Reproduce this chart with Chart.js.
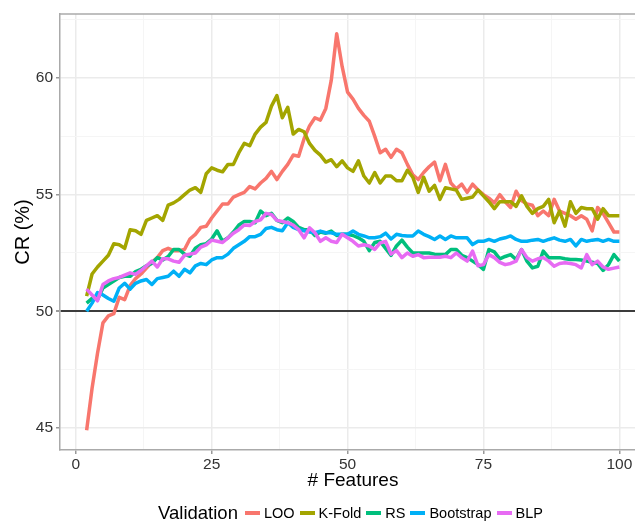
<!DOCTYPE html>
<html>
<head>
<meta charset="utf-8">
<script src="https://cdn.jsdelivr.net/npm/chart.js@4.4.0/dist/chart.umd.min.js"></script>
<style>
  html, body { margin: 0; padding: 0; background: #fff; overflow: hidden; }
  #wrap { position: relative; width: 660px; height: 522px; }
  #legend {
    position: absolute; top: 502px; height: 22px;
    display: flex; justify-content: center; align-items: center;
    font-family: "Liberation Sans", Arial, sans-serif; color: #000; white-space: nowrap;
  }
  #legend .title { font-size: 18.5px; margin-right: 7px; }
  #legend .key { width: 15px; height: 4px; margin-right: 4px; }
  #legend .label { font-size: 14.5px; margin-right: 5px; }
</style>
</head>
<body>
<div id="wrap">
  <canvas id="chart"></canvas>
  <div id="legend"></div>
</div>
<script>
// x = number of features (2..100)
const FEATURES = Array.from({ length: 99 }, (_, i) => i + 2);

const LOO = [
  44.9, 46.7, 48.2, 49.5, 49.8, 49.9, 50.6, 50.5, 51.1, 51.4,
  51.6, 51.85, 52.1, 52.3, 52.6, 52.7, 52.6, 52.6, 52.65, 53.1,
  53.3, 53.6, 53.65, 54.0, 54.3, 54.6, 54.6, 54.9, 55.0, 55.1,
  55.35, 55.25, 55.5, 55.7, 56.0, 55.65, 56.0, 56.3, 56.7, 56.65,
  57.4, 57.95, 58.3, 58.2, 58.7, 59.9, 61.9, 60.5, 59.4, 59.1,
  58.7, 58.4, 58.15, 57.5, 56.8, 56.95, 56.6, 56.95, 56.8, 56.3,
  55.85, 55.65, 55.95, 56.2, 56.4, 55.6, 56.3, 55.5, 55.25, 55.45,
  55.1, 55.45, 55.2, 55.0, 54.85, 54.65, 55.0, 54.7, 54.45, 55.15,
  54.75, 54.6, 54.55, 54.1, 54.3, 54.1, 54.8, 54.3, 54.2, 54.1,
  53.95, 54.1, 53.95, 53.45, 54.45, 54.2, 53.8, 53.4, 53.4
];
const K_FOLD = [
  50.65, 51.6, 51.9, 52.15, 52.4, 52.9, 52.85, 52.7, 53.5, 53.45,
  53.3, 53.9, 54.0, 54.1, 53.9, 54.55, 54.65, 54.8, 55.0, 55.2,
  55.3, 55.1, 55.9, 56.15, 56.05, 55.98, 56.3, 56.3, 56.8, 57.2,
  57.1, 57.6, 57.9, 58.1, 58.8, 59.25, 58.3, 58.75, 57.6, 57.8,
  57.7, 57.2, 56.9, 56.7, 56.4, 56.5, 56.2, 56.45, 56.15, 56.0,
  56.45, 55.8, 55.5, 55.95, 55.5, 55.8, 55.8, 55.6, 55.6, 56.05,
  55.75, 55.1, 55.75, 55.15, 55.4, 54.8, 55.3, 55.25, 55.2, 54.8,
  54.85, 54.9, 55.2, 54.95, 54.7, 54.4, 54.7, 54.7, 54.7, 54.5,
  54.95, 54.5, 54.2, 54.4, 54.5, 54.8, 53.8, 54.3, 53.65, 54.7,
  54.2, 54.45, 54.4, 54.4, 53.95, 54.4, 54.1, 54.1, 54.1
];
const RS = [
  50.35, 50.55, 50.5, 51.0, 51.15, 51.3, 51.45, 51.5, 51.5, 51.7,
  51.8, 51.95, 52.05, 52.3, 52.2, 52.35, 52.65, 52.65, 52.45, 52.36,
  52.7, 52.85, 52.9, 53.1, 53.45, 53.0, 53.15, 53.4, 53.7, 53.85,
  53.85, 53.8, 54.3, 54.1, 54.2, 53.9, 53.8, 54.0, 53.85, 53.6,
  53.5, 53.5, 53.25, 53.4, 53.35, 53.44, 53.25, 53.3, 53.3, 53.25,
  53.15, 53.0, 52.6, 52.95, 53.0, 52.7, 52.4, 52.8, 53.05, 52.75,
  52.5, 52.5, 52.5, 52.5, 52.45, 52.43, 52.43, 52.65, 52.65, 52.4,
  52.3, 52.15, 52.0, 51.8, 52.65, 52.55, 52.25, 52.35, 52.43, 52.22,
  52.65, 52.15, 51.86, 51.93, 52.58, 52.3, 52.3, 52.3, 52.25, 52.22,
  52.22, 52.2, 52.15, 52.1, 52.05, 51.75, 52.0, 52.43, 52.15
];
const BOOTSTRAP = [
  50.0, 50.35, 50.8, 50.7, 50.55, 50.43, 51.0, 51.2, 50.95, 51.2,
  51.3, 51.36, 51.15, 51.4, 51.45, 51.5, 51.72, 51.5, 51.8, 51.65,
  51.95, 52.05, 52.0, 52.2, 52.3, 52.3, 52.45, 52.7, 52.85, 53.0,
  53.2, 53.2, 53.3, 53.55, 53.6, 53.5, 53.45, 53.8, 53.6, 53.5,
  53.45, 53.4, 53.37, 53.44, 53.37, 53.37, 53.3, 53.3, 53.3, 53.44,
  53.3, 53.23, 53.15, 53.15, 53.2, 53.35, 53.1, 53.3, 53.25, 53.23,
  53.23, 53.44, 53.3, 53.2, 53.08, 53.23, 53.08, 53.23, 53.15, 53.15,
  53.15, 52.86, 53.0, 53.0, 53.08, 53.0, 53.1, 53.15, 53.23, 53.08,
  53.0, 53.0, 53.05, 53.08, 53.0, 53.08, 53.15, 53.05, 53.0, 53.08,
  52.8, 53.08, 53.0, 53.05, 53.08, 53.0, 53.08, 53.0, 53.0
];
const BLP = [
  50.95, 50.7, 50.45, 51.15, 51.3, 51.4, 51.45, 51.55, 51.65, 51.58,
  51.75, 51.95, 52.15, 51.9, 52.25, 52.25, 52.15, 52.1, 52.4, 52.45,
  52.5, 52.75, 52.85, 53.05, 53.0, 52.95, 53.15, 53.35, 53.5, 53.7,
  53.68, 53.85, 53.92, 54.2, 54.15, 53.9, 53.85, 53.8, 53.7, 53.5,
  53.15, 53.58, 53.37, 53.0, 53.15, 53.0, 52.95, 53.3, 53.15, 53.0,
  52.8, 52.85, 52.8, 52.65, 52.93, 53.0, 52.45, 52.6, 52.3, 52.5,
  52.36, 52.43, 52.3, 52.32, 52.32, 52.32, 52.36, 52.3, 52.5, 52.3,
  52.15, 52.58, 51.95, 52.0, 52.43, 52.3, 52.1, 52.0, 52.05, 52.15,
  52.65, 52.3, 52.15, 52.25, 52.3, 52.15, 51.93, 52.05, 52.08, 52.05,
  52.0, 51.86, 52.43, 52.0, 52.15, 51.9, 51.8, 51.85, 51.9
];

const SERIES_NAMES = ["LOO", "K-Fold", "RS", "Bootstrap", "BLP"];
const SERIES_COLORS = ["#F8766D", "#A3A500", "#00BF7D", "#00B0F6", "#E76BF3"];

const X_TICKS = [0, 12.5, 25, 37.5, 50, 62.5, 75, 87.5, 100];
const X_LABELS = [0, 25, 50, 75, 100];
const Y_TICKS = [45, 47.5, 50, 52.5, 55, 57.5, 60, 62.5];
const Y_LABELS = [45, 50, 55, 60];
const BASELINE = 50;

const FONT = "'Liberation Sans', Arial, sans-serif";
Chart.defaults.font.family = FONT;

const allSeries = [LOO, K_FOLD, RS, BOOTSTRAP, BLP];

// ggplotと同じく後のシリーズを上に描く
const datasets = allSeries.map((values, i) => ({
  label: SERIES_NAMES[i],
  data: values,
  borderColor: SERIES_COLORS[i],
  backgroundColor: SERIES_COLORS[i],
  borderWidth: 3.5,
  pointRadius: 0,
  tension: 0,
  borderJoinStyle: "round",
  order: allSeries.length - i,
}));

function gridColor(labels, ctx) {
  if (!ctx.tick) return "#EBEBEB";
  if (ctx.scale.axis === "y" && ctx.tick.value === BASELINE) return "#3C3C3C";
  return labels.includes(ctx.tick.value) ? "#EBEBEB" : "#F5F5F5";
}
function gridWidth(labels, ctx) {
  if (!ctx.tick) return 1;
  if (ctx.scale.axis === "y" && ctx.tick.value === BASELINE) return 2;
  return labels.includes(ctx.tick.value) ? 1.5 : 1;
}

// パネル上端の枠線
const panelTop = {
  id: "panelTop",
  afterDraw(chart) {
    const { ctx, chartArea } = chart;
    ctx.save();
    ctx.strokeStyle = "#AAAAAA";
    ctx.lineWidth = 1.5;
    ctx.beginPath();
    ctx.moveTo(chartArea.left, chartArea.top);
    ctx.lineTo(chartArea.right, chartArea.top);
    ctx.stroke();
    ctx.restore();
  },
};

const chart = new Chart(document.getElementById("chart"), {
  type: "line",
  data: { labels: FEATURES, datasets },
  plugins: [panelTop],
  options: {
    responsive: true,
    maintainAspectRatio: false,
    animation: false,
    layout: { padding: { left: 0, top: 14, right: 14, bottom: 30 } },
    plugins: { legend: { display: false }, tooltip: { enabled: false } },
    scales: {
      x: {
        type: "linear",
        min: -2.9,
        max: 104.9,
        afterBuildTicks: (s) => { s.ticks = X_TICKS.map((v) => ({ value: v })); },
        afterFit: (s) => { s.height = 42; },
        ticks: {
          autoSkip: false,
          maxRotation: 0,
          padding: 1,
          color: "#333",
          font: { size: 15.5 },
          callback: (v) => (X_LABELS.includes(v) ? String(v) : ""),
        },
        grid: {
          color: (c) => gridColor(X_LABELS, c),
          lineWidth: (c) => gridWidth(X_LABELS, c),
          tickColor: (c) => (c.tick && X_LABELS.includes(c.tick.value) ? "#999" : "rgba(0,0,0,0)"),
          tickLength: 4,
        },
        border: { color: "#AAAAAA", width: 1.5 },
        title: { display: true, text: "# Features", color: "#000", font: { size: 19 }, padding: { top: 0, bottom: 0 } },
      },
      y: {
        min: 44.05,
        max: 62.75,
        afterBuildTicks: (s) => { s.ticks = Y_TICKS.map((v) => ({ value: v })); },
        afterFit: (s) => { s.width = 60; },
        ticks: {
          autoSkip: false,
          padding: 3,
          color: "#333",
          font: { size: 15.5 },
          callback: (v) => (Y_LABELS.includes(v) ? String(v) : ""),
        },
        grid: {
          color: (c) => gridColor(Y_LABELS, c),
          lineWidth: (c) => gridWidth(Y_LABELS, c),
          tickColor: (c) => (c.tick && Y_LABELS.includes(c.tick.value) ? "#999" : "rgba(0,0,0,0)"),
          tickLength: 4,
        },
        border: { color: "#AAAAAA", width: 1.5 },
        title: { display: true, text: "CR (%)", color: "#000", font: { size: 20 }, padding: { top: 11, bottom: 0 } },
      },
    },
  },
});

// 凡例（タイトル横並び）をHTMLで作る
const legend = document.getElementById("legend");
const area = chart.chartArea;
legend.style.left = area.left + "px";
legend.style.width = (area.right - area.left) + "px";
const title = document.createElement("span");
title.className = "title";
title.textContent = "Validation";
legend.appendChild(title);
SERIES_NAMES.forEach((name, i) => {
  const key = document.createElement("span");
  key.className = "key";
  key.style.background = SERIES_COLORS[i];
  const label = document.createElement("span");
  label.className = "label";
  label.textContent = name;
  legend.appendChild(key);
  legend.appendChild(label);
});
</script>
</body>
</html>
